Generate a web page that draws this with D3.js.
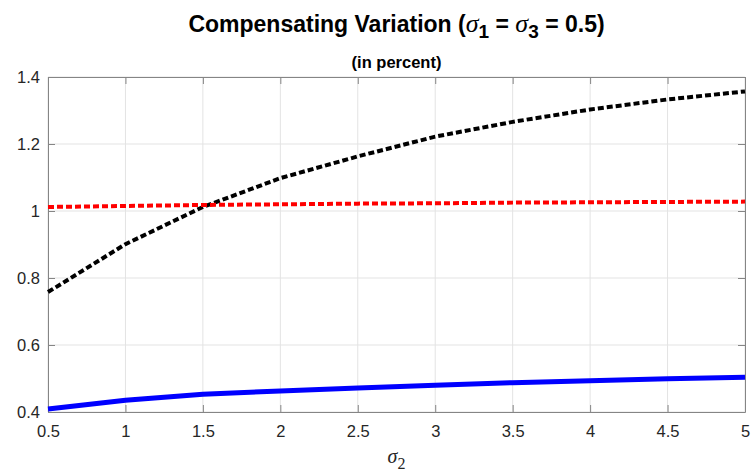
<!DOCTYPE html>
<html>
<head>
<meta charset="utf-8">
<script src="https://cdn.jsdelivr.net/npm/d3@7"></script>
<style>
  body { margin: 0; background: #fff; }
  svg { display: block; font-family: "Liberation Sans", Arial, sans-serif; }
</style>
</head>
<body>
<svg id="drawing_region"></svg>
<script>
// sigma_2 values on the x axis
var sigma2 = [0.5, 1, 1.5, 2, 2.5, 3, 3.5, 4, 4.5, 5];
// compensating variation, in percent
var cvBlack = [0.758, 0.901, 1.012, 1.098, 1.163, 1.222, 1.266, 1.303, 1.333, 1.357];
var cvRed   = [1.012, 1.015, 1.018, 1.020, 1.022, 1.023, 1.025, 1.026, 1.027, 1.028];
var cvBlue  = [0.409, 0.435, 0.453, 0.463, 0.472, 0.480, 0.4875, 0.4935, 0.4995, 0.5035];

var xTicks = [0.5, 1, 1.5, 2, 2.5, 3, 3.5, 4, 4.5, 5];
var yTicks = [0.4, 0.6, 0.8, 1, 1.2, 1.4];

var config = {
    width: 753,
    height: 471,
    margin: {top: 77, right: 8, bottom: 59, left: 48}
};

var svg = d3.select('#drawing_region')
    .attr('width', config.width)
    .attr('height', config.height);

var inner_width = config.width - config.margin.left - config.margin.right;
var inner_height = config.height - config.margin.top - config.margin.bottom;

var chart = svg.append('g')
    .attr('transform', `translate(${config.margin.left}, ${config.margin.top})`);

var xscale = d3.scaleLinear().domain([0.5, 5]).range([0, inner_width]);
var yscale = d3.scaleLinear().domain([0.4, 1.4]).range([inner_height, 0]);

// grid
chart.append('g').selectAll('line.vg')
    .data(xTicks).enter().append('line')
    .attr('x1', d => xscale(d)).attr('x2', d => xscale(d))
    .attr('y1', 0).attr('y2', inner_height)
    .attr('stroke', '#e3e3e3').attr('stroke-width', 1);
chart.append('g').selectAll('line.hg')
    .data(yTicks).enter().append('line')
    .attr('x1', 0).attr('x2', inner_width)
    .attr('y1', d => yscale(d)).attr('y2', d => yscale(d))
    .attr('stroke', '#e3e3e3').attr('stroke-width', 1);

// axes (MATLAB style: ticks inside, box on)
var axisColor = '#858585';
var xaxis = d3.axisBottom(xscale).tickValues(xTicks).tickSize(-7).tickPadding(13)
    .tickFormat(d => String(d)).tickSizeOuter(0);
var yaxis = d3.axisLeft(yscale).tickValues(yTicks).tickSize(-7).tickPadding(8)
    .tickFormat(d => String(d)).tickSizeOuter(0);
var xaxisTop = d3.axisTop(xscale).tickValues(xTicks).tickSize(-7).tickFormat('').tickSizeOuter(0);
var yaxisRight = d3.axisRight(yscale).tickValues(yTicks).tickSize(-7).tickFormat('').tickSizeOuter(0);

chart.append('g').attr('transform', `translate(0, ${inner_height})`).call(xaxis);
chart.append('g').call(yaxis);
chart.append('g').call(xaxisTop);
chart.append('g').attr('transform', `translate(${inner_width}, 0)`).call(yaxisRight);

chart.selectAll('.domain, .tick line').attr('stroke', axisColor);
chart.selectAll('.tick text')
    .attr('fill', '#262626')
    .style('font-size', '16.5px')
    .style('font-family', '"Liberation Sans", Arial, sans-serif');

// lines
var series = [
    {values: cvBlack, color: '#000000', width: 4, dash: '6,3'},
    {values: cvRed, color: '#ff0000', width: 4, dash: '6,3'},
    {values: cvBlue, color: '#0000ff', width: 5, dash: null}
];

var line = d3.line()
    .x(d => xscale(d[0]))
    .y(d => yscale(d[1]));

chart.selectAll('path.series')
    .data(series).enter().append('path')
    .attr('class', 'series')
    .attr('d', s => line(sigma2.map((x, i) => [x, s.values[i]])))
    .attr('fill', 'none')
    .attr('stroke', s => s.color)
    .attr('stroke-width', s => s.width)
    .attr('stroke-dasharray', s => s.dash);

// titles
var cx = config.margin.left + inner_width / 2;
var serif = '"Liberation Serif", serif';

var title = svg.append('text')
    .attr('x', cx).attr('y', 32)
    .attr('text-anchor', 'middle')
    .style('font-size', '23px').style('font-weight', 'bold')
    .attr('fill', '#000');
title.append('tspan').text('Compensating Variation (');
title.append('tspan').text('σ').style('font-family', serif).style('font-style', 'italic').style('font-weight', 'normal').style('font-size', '26px');
title.append('tspan').text('1').attr('dy', 6).style('font-size', '19px');
title.append('tspan').text(' = ').attr('dy', -6);
title.append('tspan').text('σ').style('font-family', serif).style('font-style', 'italic').style('font-weight', 'normal').style('font-size', '26px');
title.append('tspan').text('3').attr('dy', 6).style('font-size', '19px');
title.append('tspan').text(' = 0.5)').attr('dy', -6);

svg.append('text')
    .attr('x', cx).attr('y', 68)
    .attr('text-anchor', 'middle')
    .style('font-size', '16.5px').style('font-weight', 'bold')
    .attr('fill', '#000')
    .text('(in percent)');

var xlabel = svg.append('text')
    .attr('x', cx).attr('y', 463)
    .attr('text-anchor', 'middle')
    .attr('fill', '#262626');
xlabel.append('tspan').text('σ').style('font-family', serif).style('font-style', 'italic').style('font-size', '20px');
xlabel.append('tspan').text('2').attr('dy', 6).style('font-family', serif).style('font-size', '16px');
</script>
</body>
</html>
